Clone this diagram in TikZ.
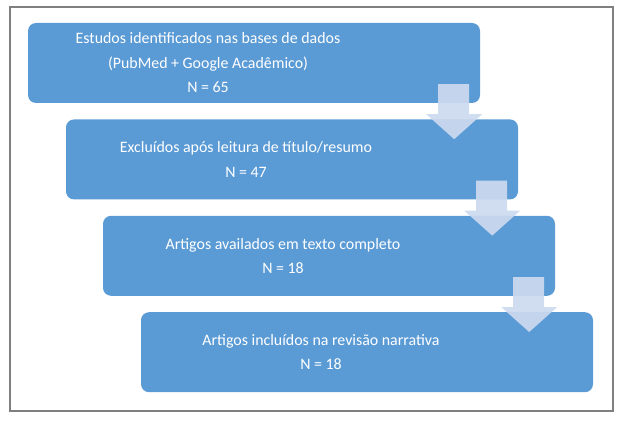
\documentclass[tikz,border=0pt]{standalone}
\usepackage{fontspec}
\setmainfont{Carlito}
\usepackage{xcolor}
\usepackage{tikz}
\usetikzlibrary{positioning, calc}
\definecolor{boxblue}{HTML}{5B9BD5}
\definecolor{arrowblue}{HTML}{CCD9EE}
\definecolor{framegray}{HTML}{7F7F7F}

\begin{document}
\begin{tikzpicture}[x=1pt, y=1pt,
    stage/.style={fill=boxblue, rounded corners=8pt, minimum width=452pt, minimum height=80pt, inner sep=0pt},
    stagetext/.style={text=white, align=center, font=\fontsize{15.9}{24.5}\selectfont},
    flow/.style={fill=arrowblue, fill opacity=0.92}]
    \useasboundingbox (0,0) rectangle (623,-425);

    % Outer frame
    \draw[framegray, line width=1.5pt] (10,-7) rectangle (613,-411);

    % Stage boxes
    \node[stage] (b1) at (254,-63) {};
    \node[stage, below=16pt of b1, xshift=38pt] (b2) {};
    \node[stage, below=16pt of b2, xshift=37pt] (b3) {};
    \node[stage, below=16pt of b3, xshift=38pt] (b4) {};

    % Stage texts (shifted left, away from the arrows)
    \node[stagetext] (t1) at ([xshift=-46pt]b1.center) {Estudos identificados nas bases de dados\\(PubMed + Google Acadêmico)\\N = 65};
    \node[stagetext] (t2) at ([xshift=-46pt]b2.center) {Excluídos após leitura de título/resumo\\N = 47};
    \node[stagetext] (t3) at ([xshift=-46pt]b3.center) {Artigos availados em texto completo\\N = 18};
    \node[stagetext] (t4) at ([xshift=-46pt]b4.center) {Artigos incluídos na revisão narrativa\\N = 18};

    % Down arrows between the stages
    \foreach \s in {b1, b2, b3}
        \fill[flow] ($(\s.south east)+(-42,19)$) -- ($(\s.south east)+(-11,19)$)
            -- ($(\s.south east)+(-11,-11)$) -- ($(\s.south east)+(2,-11)$)
            -- ($(\s.south east)+(-26,-36)$) -- ($(\s.south east)+(-54,-11)$)
            -- ($(\s.south east)+(-42,-11)$) -- cycle;
\end{tikzpicture}
\end{document}
